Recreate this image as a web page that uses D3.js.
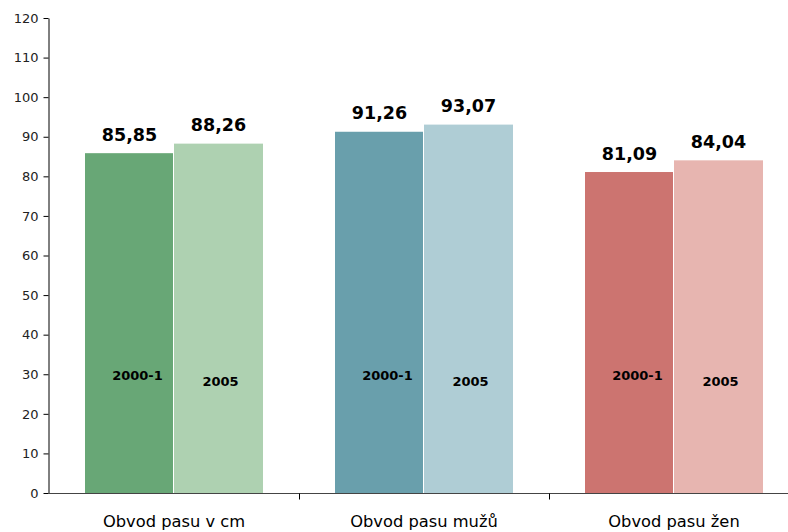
<!DOCTYPE html>
<html>
<head>
<meta charset="utf-8">
<script src="https://cdn.jsdelivr.net/npm/d3@7"></script>
<style>
  html, body { margin: 0; padding: 0; background: #fff; }
  svg { display: block; font-family: "DejaVu Sans", Verdana, sans-serif; }
</style>
</head>
<body>
<svg id="chart" width="788" height="532"></svg>
<script>
// Waist circumference (cm), two survey waves
const categories = ["Obvod pasu v cm", "Obvod pasu mužů", "Obvod pasu žen"];
const series = ["2000-1", "2005"];
const values2000 = [85.85, 91.26, 81.09];
const values2005 = [88.26, 93.07, 84.04];
const yTicks = [0, 10, 20, 30, 40, 50, 60, 70, 80, 90, 100, 110, 120];

// dark / light shade per category
const darkColors = ["#68a776", "#699fac", "#cc7470"];
const lightColors = ["#aed1b1", "#afcdd5", "#e7b5b0"];

const svg = d3.select("#chart");
const margin = { left: 49, right: -11, top: 18, bottom: 39 };
const W = 788, H = 532;

const x = d3.scaleBand()
  .domain(categories)
  .range([margin.left, W - margin.right])
  .paddingInner(0)
  .paddingOuter(0);

const y = d3.scaleLinear().domain([0, 120]).range([H - margin.bottom, margin.top]);

const pad = 36;
const xs = d3.scaleBand().domain(series).range([pad, x.bandwidth() - pad]).padding(0);

const rows = categories.map((c, i) => ({
  cat: c,
  bars: [
    { s: series[0], v: values2000[i], color: darkColors[i] },
    { s: series[1], v: values2005[i], color: lightColors[i] }
  ]
}));

const fmt = v => d3.format(".2f")(v).replace(".", ",");

const g = svg.selectAll("g.grp").data(rows).join("g")
  .attr("class", "grp")
  .attr("transform", d => `translate(${x(d.cat)},0)`);

g.selectAll("rect").data(d => d.bars).join("rect")
  .attr("x", d => xs(d.s))
  .attr("width", d => xs.bandwidth() - (d.s === series[0] ? 1 : 0))
  .attr("y", d => y(d.v))
  .attr("height", d => y(0) - y(d.v))
  .attr("fill", d => d.color);

// value labels above bars
g.selectAll("text.val").data(d => d.bars).join("text")
  .attr("class", "val")
  .attr("x", d => xs(d.s) + xs.bandwidth() / 2)
  .attr("y", d => y(d.v) - 12.5)
  .attr("text-anchor", "middle")
  .attr("font-size", 17.5)
  .attr("font-weight", "bold")
  .attr("fill", "#000")
  .text(d => fmt(d.v));

// series labels inside bars
g.selectAll("text.ser").data(d => d.bars).join("text")
  .attr("class", "ser")
  .attr("x", d => xs(d.s) + xs.bandwidth() / 2 + (d.s === series[0] ? 8 : 2))
  .attr("y", d => y(d.s === series[0] ? 28.5 : 27))
  .attr("text-anchor", "middle")
  .attr("font-size", 13)
  .attr("font-weight", "bold")
  .attr("fill", "#000")
  .text(d => d.s);

// y axis
const yAxis = svg.append("g")
  .attr("transform", `translate(${margin.left - 0.5},0)`)
  .call(d3.axisLeft(y).tickValues(yTicks).tickSize(5).tickSizeOuter(0).tickPadding(5));
yAxis.select(".domain").attr("stroke", "#000");
yAxis.selectAll(".tick line").attr("stroke", "#000");
yAxis.selectAll(".tick text").attr("font-size", 13).attr("fill", "#222")
  .attr("font-family", "DejaVu Sans, sans-serif");

// x axis with boundary ticks between categories
const xAxisG = svg.append("g").attr("transform", `translate(0,${y(0) + 0.5})`);
xAxisG.append("line")
  .attr("x1", margin.left - 1).attr("x2", W)
  .attr("stroke", "#444");
xAxisG.selectAll("line.bt").data(categories.slice(1)).join("line")
  .attr("class", "bt")
  .attr("x1", d => x(d) + 0.5).attr("x2", d => x(d) + 0.5)
  .attr("y1", 0).attr("y2", 6)
  .attr("stroke", "#000");
xAxisG.selectAll("text").data(categories).join("text")
  .attr("x", d => x(d) + x.bandwidth() / 2)
  .attr("y", 33.5)
  .attr("text-anchor", "middle")
  .attr("font-size", 16.3)
  .attr("fill", "#000")
  .text(d => d);
</script>
</body>
</html>
